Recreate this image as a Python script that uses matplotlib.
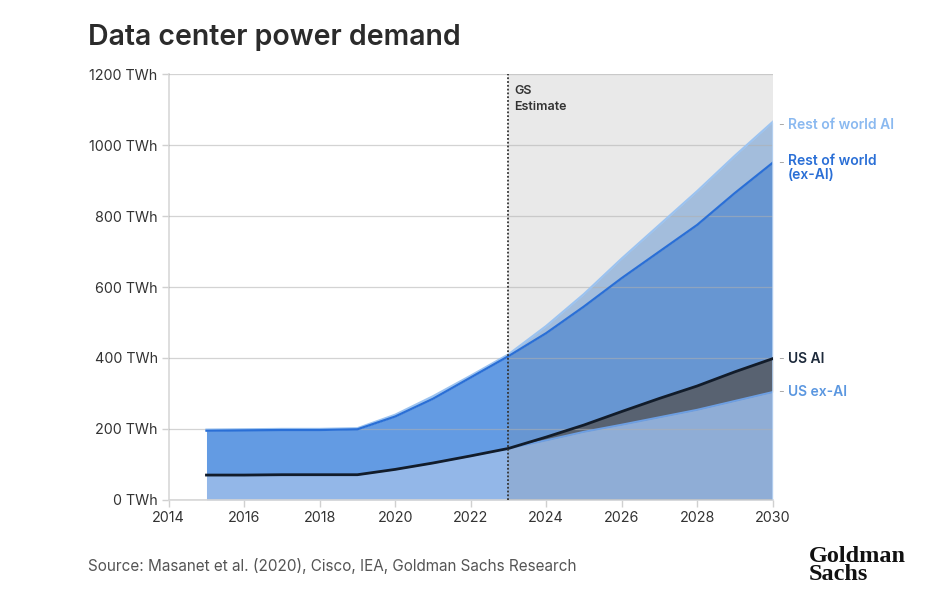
import matplotlib.pyplot as plt

plt.rcParams['font.family'] = ['Inter', 'DejaVu Sans']

# data, TWh
years = [2015, 2016, 2017, 2018, 2019, 2020, 2021, 2022, 2023,
         2024, 2025, 2026, 2027, 2028, 2029, 2030]
us_ex_ai = [70, 70, 71, 71, 71, 86, 104, 124, 145,
            168, 192, 212, 233, 254, 279, 304]
us_ai = [0, 0, 0, 0, 0, 0, 0, 0, 0,
         9, 19, 37, 53, 67, 82, 94]
row_ex_ai = [125, 126, 126, 126, 128, 149, 181, 221, 260,
             293, 334, 376, 414, 454, 504, 552]
row_ai = [3, 3, 3, 3, 3, 5, 7, 5, 5,
          20, 35, 55, 75, 95, 105, 115]

estimate_start = 2023
yticks = [0, 200, 400, 600, 800, 1000, 1200]
xticks = [2014, 2016, 2018, 2020, 2022, 2024, 2026, 2028, 2030]

lvl1 = list(us_ex_ai)
lvl2 = [a + b for a, b in zip(lvl1, us_ai)]
lvl3 = [a + b for a, b in zip(lvl2, row_ex_ai)]
lvl4 = [a + b for a, b in zip(lvl3, row_ai)]

fig = plt.figure(figsize=(9.48, 5.93), dpi=100)
ax = fig.add_axes([0.178, 0.157, 0.637, 0.718])

# stacked areas
ax.fill_between(years, 0, lvl1, color='#93b7e8', lw=0, zorder=2)
ax.fill_between(years, lvl1, lvl2, color='#505c6e', lw=0, zorder=2)
ax.fill_between(years, lvl2, lvl3, color='#639be3', lw=0, zorder=2)
ax.fill_between(years, lvl3, lvl4, color='#abcaef', lw=0, zorder=2)

# gray estimate region laid over the areas
ax.axvspan(estimate_start, 2030, color='#808080', alpha=0.17, lw=0, zorder=3)

# grid
for y in yticks:
    ax.axhline(y, color='#b0b0b0', lw=0.9, alpha=0.55, zorder=4)

# outlines
ax.plot(years, lvl4, color='#9cc3f0', lw=1.6, zorder=5)
ax.plot(years, lvl3, color='#2a6fd6', lw=1.6, zorder=5)
ax.plot(years, lvl1, color='#6d9fe3', lw=1.4, zorder=5)
ax.plot(years, lvl2, color='#121c2a', lw=2.0, zorder=6)
ax.plot([2030, 2030], [0, lvl4[-1]], color='#b8d3f2', lw=1.2, zorder=5)

ax.axvline(estimate_start, color='#333333', lw=1.3, ls=(0, (1, 1.1)), zorder=7)
ax.text(estimate_start + 0.15, 1168, 'GS\nEstimate', fontsize=9,
        fontweight='semibold', color='#333333', va='top', ha='left',
        linespacing=1.35, zorder=8)

ax.set_xlim(2014, 2030)
ax.set_ylim(0, 1200)
ax.set_xticks(xticks)
ax.set_yticks(yticks)
ax.set_yticklabels([f'{y} TWh' for y in yticks])
ax.tick_params(axis='both', colors='#d0d0d0', labelcolor='#333333',
               labelsize=10.3, length=5, width=1)
ax.tick_params(axis='x', pad=3)
ax.tick_params(axis='y', pad=3)
for side in ['top', 'right']:
    ax.spines[side].set_visible(False)
for side in ['left', 'bottom']:
    ax.spines[side].set_color('#d8d8d8')
    ax.spines[side].set_linewidth(1.2)

# right-hand labels
labels = [
    (lvl4[-1] - 8, 'Rest of world AI', '#8ab9f0'),
    (lvl3[-1] + 0, 'Rest of world\n(ex-AI)', '#2a6fd6'),
    (lvl2[-1], 'US AI', '#1d2a3b'),
    (lvl1[-1], 'US ex-AI', '#5b97e0'),
]
for yv, txt, col in labels:
    ax.annotate('-', xy=(1, yv), xycoords=('axes fraction', 'data'),
                xytext=(4, 0), textcoords='offset points', color='#aaaaaa',
                fontsize=9, va='center', ha='left', annotation_clip=False)
    if '\n' in txt:
        ax.annotate(txt, xy=(1, yv), xycoords=('axes fraction', 'data'),
                    xytext=(11, 6), textcoords='offset points', color=col,
                    fontsize=10, fontweight='semibold', va='top', ha='left',
                    linespacing=0.95, annotation_clip=False)
    else:
        ax.annotate(txt, xy=(1, yv), xycoords=('axes fraction', 'data'),
                    xytext=(11, 0), textcoords='offset points', color=col,
                    fontsize=10, fontweight='semibold', va='center', ha='left',
                    annotation_clip=False)

fig.text(0.093, 0.937, 'Data center power demand', fontsize=20.5,
         fontweight='semibold', color='#2b2b2b', va='center', ha='left')
fig.text(0.093, 0.045, 'Source: Masanet et al. (2020), Cisco, IEA, Goldman Sachs Research',
         fontsize=11, color='#555555', va='center', ha='left')
fig.text(0.853, 0.047, 'Goldman\nSachs', fontsize=17.5, fontweight='bold',
         family='Liberation Serif', color='#111111', va='center', ha='left',
         linespacing=0.8)

fig.savefig('out.png', dpi=100)
